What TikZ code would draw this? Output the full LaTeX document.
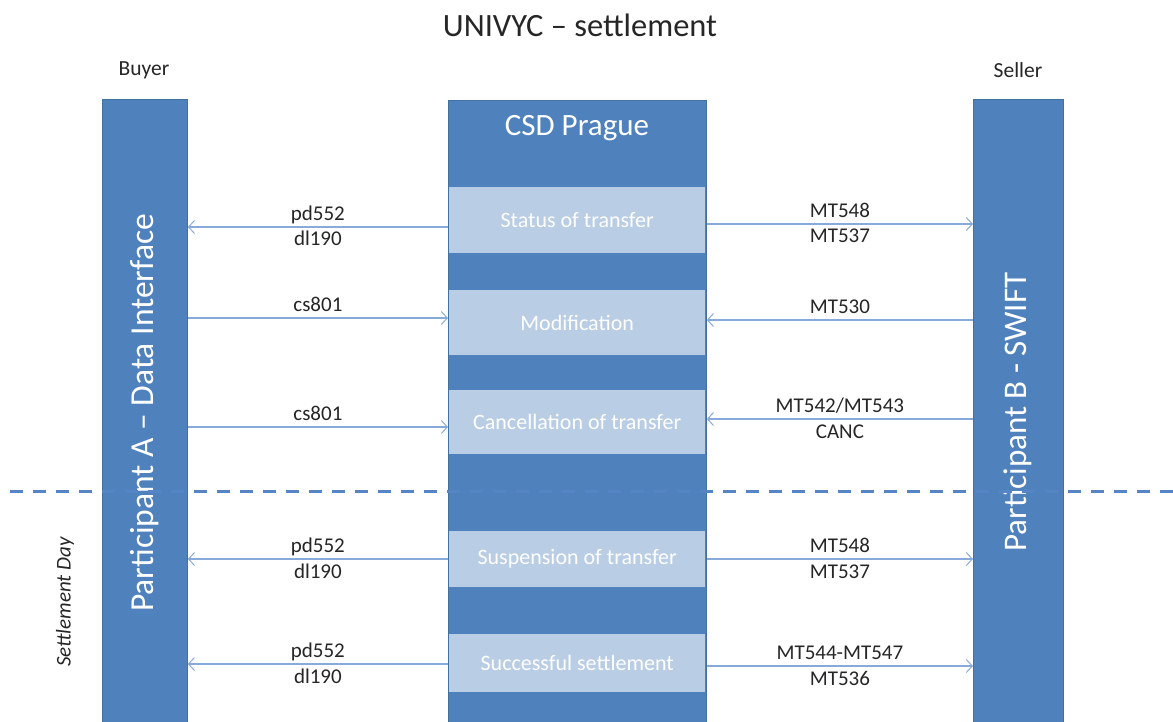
\documentclass[tikz,border=0pt]{standalone}
\usepackage{fontspec}
\setmainfont{Carlito}
\usetikzlibrary{arrows.meta}
\definecolor{barblue}{HTML}{4F81BD}
\definecolor{barline}{HTML}{41719C}
\definecolor{lightbox}{HTML}{B9CDE5}
\definecolor{arrowblue}{HTML}{88AADB}
\definecolor{txt}{HTML}{262626}
\definecolor{dashblue}{HTML}{5585C5}
\begin{document}
\begin{tikzpicture}[x=1pt,y=-1pt,
  bar/.style={draw=barline, line width=0.8pt, fill=barblue, anchor=north west, inner sep=0pt},
  stepbox/.style={fill=lightbox, anchor=north west, minimum width=256, inner sep=0pt, text=white, font=\fontsize{22}{26}\selectfont},
  bigtxt/.style={text=white, font=\fontsize{33.5}{40}\selectfont, inner sep=0pt},
  conn/.style={draw=arrowblue, line width=1.3pt, -{Straight Barb[length=6pt,width=13pt,line width=1pt]}},
  lbl/.style={text=txt, font=\fontsize{21}{25}\selectfont, inner sep=0pt, anchor=base},
  up/.style={lbl, midway, yshift=6.5pt},
  down/.style={lbl, midway, yshift=-19pt},
  toplbl/.style={text=txt, font=\fontsize{21.5}{25}\selectfont, inner sep=0pt}
]
\useasboundingbox (0,0) rectangle (1173,722);
\fill[white] (0,0) rectangle (1173,722);

% title and headers
\node[text=txt, font=\fontsize{32.5}{38}\selectfont, inner sep=0pt] (title) at (580,25) {UNIVYC – settlement};
\node[toplbl] (buyer) at (144,70) {Buyer};
\node[toplbl] (seller) at (1018,70) {Seller};

% bars
\node[bar, minimum width=85, minimum height=640] (A) at (102,99) {};
\node[bar, minimum width=258, minimum height=640] (csd) at (448,100) {};
\node[bar, minimum width=90, minimum height=640] (B) at (973,99) {};

\node[bigtxt, rotate=90] (Atxt) at (145,413) {Participant A – Data Interface};
\node[bigtxt, rotate=90, font=\fontsize{33}{40}\selectfont] (Btxt) at (1018,412) {Participant B - SWIFT};
\node[bigtxt, font=\fontsize{31}{37}\selectfont] (csdtxt) at (577,128) {CSD Prague};

% light step boxes
\node[stepbox, minimum height=66] (s1) at (449,187) {Status of transfer};
\node[stepbox, minimum height=65] (s2) at (449,290) {Modification};
\node[stepbox, minimum height=64] (s3) at (449,390) {Cancellation of transfer};
\node[stepbox, minimum height=56] (s4) at (449,531) {Suspension of transfer};
\node[stepbox, minimum height=58] (s5) at (449,634) {Successful settlement};

% settlement day separator
\coordinate (dl) at (10,491);
\coordinate (dr) at (1173,491);
\draw[dashblue, line width=3pt, dash pattern=on 13pt off 10pt] (dl) -- (dr);
\node[text=txt, font=\fontsize{21}{25}\selectfont\itshape, rotate=90, inner sep=0pt] (sday) at (65,602) {Settlement Day};

% row levels
\coordinate (l1) at (0,227);  \coordinate (q1) at (0,224);
\coordinate (l2) at (0,318);  \coordinate (q2) at (0,320);
\coordinate (l3) at (0,427);  \coordinate (q3) at (0,419);
\coordinate (l4) at (0,559);  \coordinate (q4) at (0,559);
\coordinate (l5) at (0,664);  \coordinate (q5) at (0,666);

% left side connectors
\draw[conn] (csd.west |- l1) -- (A.east |- l1) node[up]{pd552} node[down]{dl190};
\draw[conn] (A.east |- l2) -- (csd.west |- l2) node[up]{cs801};
\draw[conn] (A.east |- l3) -- (csd.west |- l3) node[up]{cs801};
\draw[conn] (csd.west |- l4) -- (A.east |- l4) node[up]{pd552} node[down]{dl190};
\draw[conn] (csd.west |- l5) -- (A.east |- l5) node[up]{pd552} node[down]{dl190};

% right side connectors
\draw[conn] (csd.east |- q1) -- (B.west |- q1) node[up]{MT548} node[down]{MT537};
\draw[conn] (B.west |- q2) -- (csd.east |- q2) node[up]{MT530};
\draw[conn] (B.west |- q3) -- (csd.east |- q3) node[up]{MT542/MT543} node[down]{CANC};
\draw[conn] (csd.east |- q4) -- (B.west |- q4) node[up]{MT548} node[down]{MT537};
\draw[conn] (csd.east |- q5) -- (B.west |- q5) node[up]{MT544-MT547} node[down]{MT536};
\end{tikzpicture}
\end{document}
